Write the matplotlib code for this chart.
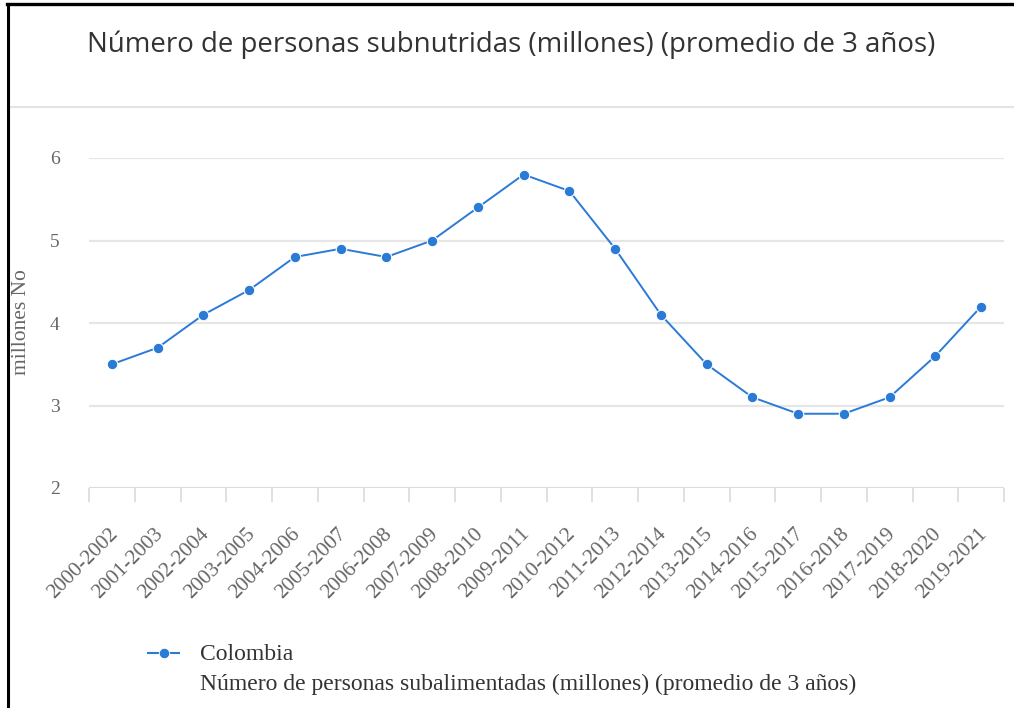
import matplotlib
matplotlib.use("Agg")
import matplotlib.pyplot as plt
from matplotlib.lines import Line2D
from matplotlib.transforms import ScaledTranslation
import numpy as np

categories = ["2000-2002", "2001-2003", "2002-2004", "2003-2005", "2004-2006",
              "2005-2007", "2006-2008", "2007-2009", "2008-2010", "2009-2011",
              "2010-2012", "2011-2013", "2012-2014", "2013-2015", "2014-2016",
              "2015-2017", "2016-2018", "2017-2019", "2018-2020", "2019-2021"]
values = [3.5, 3.7, 4.1, 4.4, 4.8, 4.9, 4.8, 5.0, 5.4, 5.8,
          5.6, 4.9, 4.1, 3.5, 3.1, 2.9, 2.9, 3.1, 3.6, 4.2]
y_ticks = [2, 3, 4, 5, 6]
title = "Número de personas subnutridas (millones) (promedio de 3 años)"
y_label = "millones No"
series_name = "Colombia"
series_desc = "Número de personas subalimentadas (millones) (promedio de 3 años)"

LINE_COLOR = "#2a7bd6"
W, H = 1014, 708
fig = plt.figure(figsize=(W / 100, H / 100), dpi=100)
fig.patch.set_facecolor("white")


def fx(px):
    return px / W


def fy(py):
    return 1 - py / H


ax = fig.add_axes([fx(89), fy(488), fx(1004) - fx(89), fy(158) - fy(488)])
n = len(categories)
ax.set_xlim(-0.5, n - 0.5)
ax.set_ylim(2, 6)
for s in ax.spines.values():
    s.set_visible(False)
ax.set_yticks(y_ticks)
ax.set_yticklabels([str(t) for t in y_ticks], fontfamily="Liberation Serif",
                   fontsize=14, color="#666666")
ax.tick_params(axis="y", length=0, pad=21)
for t in y_ticks[1:]:
    ax.axhline(t, color="#e6e6e6", lw=1.6, zorder=0)
ax.axhline(2, color="#dddddd", lw=1.6, zorder=0)

ax.set_xticks(np.arange(-0.5, n, 1.0))
ax.set_xticklabels([])
ax.tick_params(axis="x", length=10, width=1.3, color="#dddddd")

# category labels, rotated, anchored by their right end
label_tr = ax.get_xaxis_transform() + ScaledTranslation(3 / 100, -43 / 100,
                                                         fig.dpi_scale_trans)
for i, c in enumerate(categories):
    ax.text(i, 0, c, transform=label_tr, rotation=45, ha="right", va="center",
            rotation_mode="anchor", fontfamily="Liberation Serif",
            fontsize=15.3, color="#666666")

xs = np.arange(n)
ax.plot(xs, values, color=LINE_COLOR, lw=1.4, marker="o", ms=7.6,
        markerfacecolor=LINE_COLOR, markeredgecolor="white",
        markeredgewidth=0.8, zorder=4, clip_on=False)

fig.text(fx(22), fy(322), y_label, rotation=90, ha="center", va="center",
         fontfamily="Liberation Serif", fontsize=15.5, color="#666666")

fig.text(fx(511), fy(45), title, ha="center", va="center",
         fontfamily="Open Sans", fontsize=19.9, color="#333333")

# frame and separator
fig.add_artist(Line2D([fx(8), 1], [fy(107), fy(107)], color="#e3e3e3",
                      lw=1.5))
fig.add_artist(Line2D([fx(7.5), fx(7.5)], [fy(4), 0], color="black", lw=2.2))
fig.add_artist(Line2D([fx(6.5), 1], [fy(4), fy(4)], color="black", lw=2.4))

# legend
fig.add_artist(Line2D([fx(147), fx(180)], [fy(653), fy(653)],
                      color=LINE_COLOR, lw=1.5, linestyle=(0, (7.5, 2.5))))
fig.add_artist(Line2D([fx(163.5)], [fy(653)], marker="o", ms=7.5,
                      color=LINE_COLOR, markeredgecolor="white",
                      markeredgewidth=0.6, linestyle="none"))
fig.text(fx(200), fy(654), series_name, ha="left", va="center",
         fontfamily="Liberation Serif", fontsize=17, color="#333333")
fig.text(fx(200), fy(684), series_desc, ha="left", va="center",
         fontfamily="Liberation Serif", fontsize=17, color="#333333")

fig.savefig("out.png", dpi=100, facecolor="white")
